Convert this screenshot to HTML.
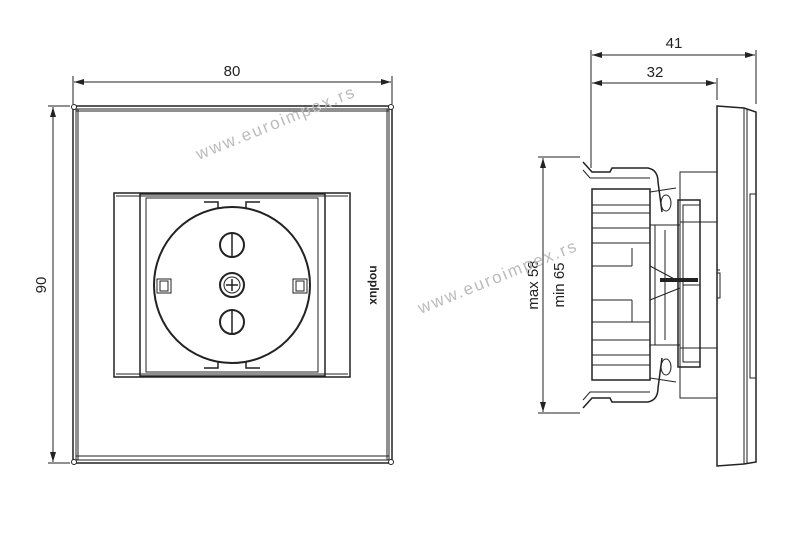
<!DOCTYPE html>
<html><head><meta charset="utf-8"><style>
html,body{margin:0;padding:0;background:#fff;}
svg{display:block;}
text{font-family:"Liberation Sans",Arial,sans-serif;}
</style></head><body>
<svg width="800" height="538" viewBox="0 0 800 538" xmlns="http://www.w3.org/2000/svg">
<defs>
<marker id="a" markerWidth="10" markerHeight="6" refX="10" refY="3" orient="auto-start-reverse" markerUnits="userSpaceOnUse">
<path d="M0,0 L10,3 L0,6 z" fill="#222"/></marker>
</defs>
<g stroke="#222" fill="none" stroke-width="1">
<!-- front dims -->
<line x1="73" y1="76" x2="73" y2="104"/><line x1="392" y1="76" x2="392" y2="104"/>
<line x1="74" y1="82" x2="391" y2="82" marker-start="url(#a)" marker-end="url(#a)"/>
<line x1="48" y1="106" x2="70" y2="106"/><line x1="48" y1="463" x2="70" y2="463"/>
<line x1="53" y1="107" x2="53" y2="462" marker-start="url(#a)" marker-end="url(#a)"/>
<!-- plate -->
<rect x="73" y="106" width="319" height="357" stroke-width="1.5"/>
<rect x="76" y="109" width="313" height="351"/>
<line x1="76" y1="111" x2="389" y2="111"/>
<line x1="76" y1="456" x2="389" y2="456"/>
<line x1="78" y1="109" x2="78" y2="460"/>
<line x1="387" y1="109" x2="387" y2="460"/>
<circle cx="74" cy="107" r="2.5" fill="#fff"/><circle cx="391" cy="107" r="2.5" fill="#fff"/>
<circle cx="74" cy="462" r="2.5" fill="#fff"/><circle cx="391" cy="462" r="2.5" fill="#fff"/>
<!-- insert -->
<rect x="114" y="193" width="236" height="184" stroke-width="1.5"/>
<rect x="140" y="194" width="185" height="182" stroke-width="1.5"/>
<rect x="146" y="198" width="172" height="174"/>
<line x1="116" y1="196" x2="348" y2="196"/>
<line x1="116" y1="374" x2="348" y2="374"/>
<circle cx="232" cy="285" r="78" stroke-width="2"/>
<path d="M218,208 v-6 h-14 M246,208 v-6 h14 M218,362 v6 h-14 M246,362 v6 h14" stroke-width="1.5"/>
<circle cx="232" cy="245" r="12" stroke-width="2"/>
<line x1="232" y1="234" x2="232" y2="256" stroke-width="1.5"/>
<circle cx="232" cy="285" r="12" stroke-width="2"/>
<circle cx="232" cy="285" r="8"/>
<path d="M226,285 h12 M232,279 v12" stroke-width="1.5"/>
<circle cx="232" cy="322" r="12" stroke-width="2"/>
<line x1="232" y1="311" x2="232" y2="333" stroke-width="1.5"/>
<rect x="157" y="279" width="14" height="14"/><rect x="160" y="281" width="8" height="10"/>
<rect x="293" y="279" width="14" height="14"/><rect x="296" y="281" width="8" height="10"/>
<!-- side dims -->
<line x1="591" y1="50" x2="591" y2="168"/>
<line x1="756" y1="50" x2="756" y2="104"/>
<line x1="717" y1="78" x2="717" y2="100"/>
<line x1="592" y1="55" x2="755" y2="55" marker-start="url(#a)" marker-end="url(#a)"/>
<line x1="592" y1="83" x2="716" y2="83" marker-start="url(#a)" marker-end="url(#a)"/>
<line x1="538" y1="157" x2="580" y2="157"/><line x1="538" y1="413" x2="580" y2="413"/>
<line x1="543" y1="158" x2="543" y2="412" marker-start="url(#a)" marker-end="url(#a)"/>
<!-- side plate -->
<path d="M717,106 L744,108 L756,112 L756,462 L744,464 L717,466 Z" stroke-width="1.5"/>
<line x1="744" y1="108" x2="744" y2="464"/>
<line x1="747" y1="109" x2="747" y2="463"/>
<rect x="750" y="194" width="6" height="184"/>
<line x1="717" y1="270" x2="720" y2="270"/><rect x="717" y="273" width="3" height="25"/>
<!-- flange -->
<rect x="680" y="172" width="37" height="226"/>
<line x1="680" y1="222" x2="717" y2="222"/><line x1="680" y1="348" x2="717" y2="348"/>
<rect x="678" y="200" width="22" height="167" stroke-width="1.5"/>
<rect x="683" y="205" width="17" height="157"/>
<line x1="683" y1="285" x2="700" y2="285"/>
<!-- body -->
<rect x="592" y="189" width="58" height="191" stroke-width="1.5"/>
<path d="M592,205 h58 M592,213 h58 M592,228 h58 M592,243 h58 M632,248 v18 M592,266 h40 M592,300 h40 M632,300 v22 M592,322 h58 M592,340 h58 M592,355 h58 M592,365 h58" />
<path d="M650,266 L680,282 M650,300 L680,288 M650,225 h30 M650,345 h30 M655,225 v120 M665,230 v110"/>
<path d="M660,280 h38" stroke-width="4"/>
<!-- clips -->
<path d="M583,162 L592,172 L610,172 L612,168 L648,168 Q658,170 658,182 L662,212" stroke-width="1.5"/>
<path d="M583,170 L590,178 L650,178"/>
<path d="M583,408 L592,398 L610,398 L612,402 L648,402 Q658,400 658,388 L662,358" stroke-width="1.5"/>
<path d="M583,400 L590,392 L650,392"/>
<ellipse cx="666" cy="203" rx="5" ry="8"/><ellipse cx="666" cy="367" rx="5" ry="8"/>
<path d="M650,192 L676,188 M650,378 L676,382"/>
</g>
<g fill="#222">
<text x="232" y="76" font-size="15" text-anchor="middle">80</text>
<text x="46" y="285" font-size="15" text-anchor="middle" transform="rotate(-90 46 285)">90</text>
<text x="674" y="48" font-size="15" text-anchor="middle">41</text>
<text x="655" y="77" font-size="15" text-anchor="middle">32</text>
<text x="538" y="285" font-size="15" text-anchor="middle" transform="rotate(-90 538 285)">max 58</text>
<text x="564" y="285" font-size="15" text-anchor="middle" transform="rotate(-90 564 285)">min 65</text>
<text x="370" y="285" font-size="12" font-weight="bold" text-anchor="middle" transform="rotate(90 370 285)">noplux</text>
</g>
<g fill="#bbb" font-size="17" letter-spacing="2">
<text x="278" y="128" text-anchor="middle" transform="rotate(-22 278 128)">www.euroimpex.rs</text>
<text x="500" y="282" text-anchor="middle" transform="rotate(-22 500 282)">www.euroimpex.rs</text>
</g>
</svg>
</body></html>
